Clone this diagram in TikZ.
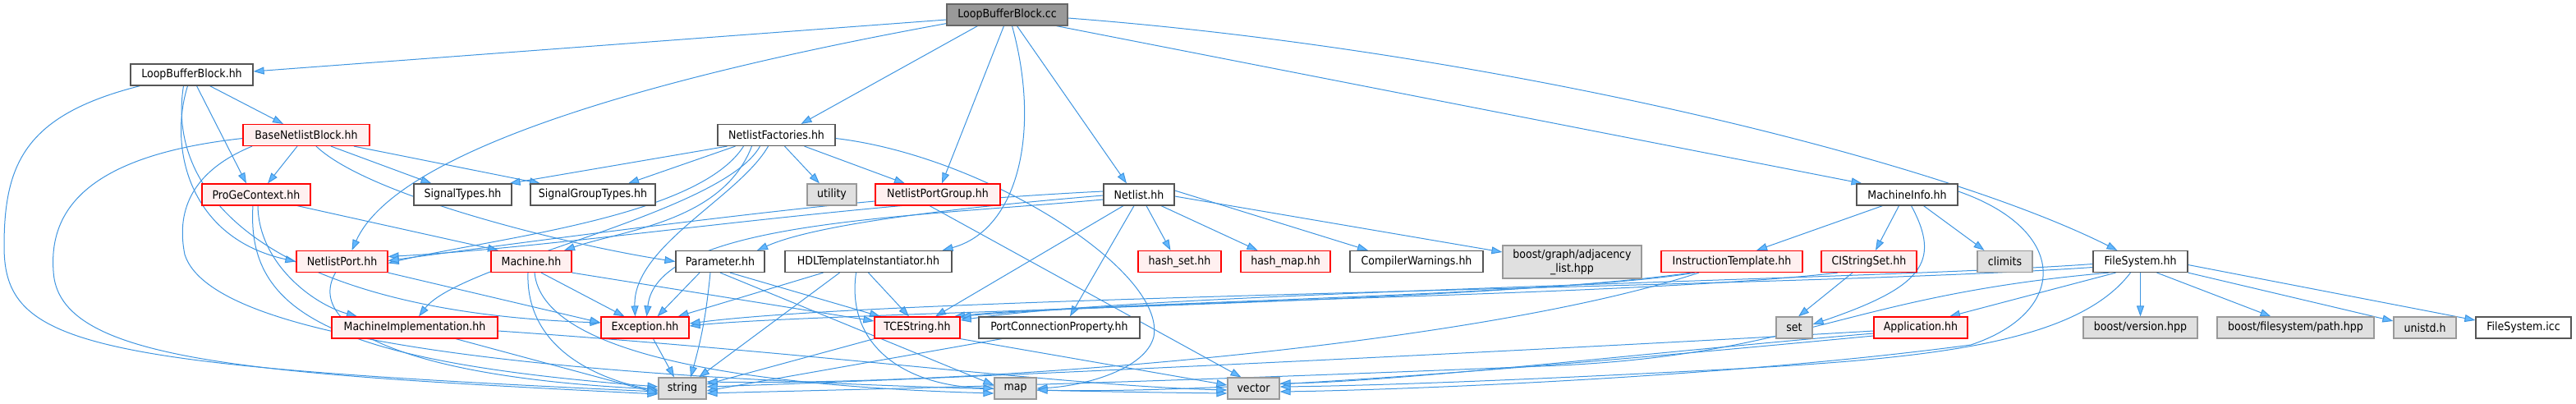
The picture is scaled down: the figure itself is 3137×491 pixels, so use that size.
\documentclass[tikz,border=0pt]{standalone}
\usepackage{fontspec}
\newfontfamily\nodefont{DejaVu Sans Condensed}
\usepackage{tikz}
\usetikzlibrary{arrows.meta,positioning,calc}
\pgfdeclarelayer{background}
\pgfsetlayers{background,main}

\definecolor{edgeblue}{HTML}{3F95E0}
\definecolor{tipblue}{HTML}{63B8FF}
\definecolor{rootfill}{HTML}{999999}
\definecolor{rootdraw}{HTML}{666666}
\definecolor{filedraw}{HTML}{555555}
\definecolor{redfill}{HTML}{FFF0F0}
\definecolor{sysfill}{HTML}{E0E0E0}
\definecolor{sysdraw}{HTML}{999999}

\tikzset{
    basebox/.style={line width=1.2pt, minimum height=26pt, inner sep=0pt,
        font=\nodefont\fontsize{14}{16}\selectfont, text=black},
    rootbox/.style={basebox, draw=rootdraw, fill=rootfill},
    filebox/.style={basebox, draw=filedraw, fill=white},
    redbox/.style={basebox, draw=red, fill=redfill},
    sysbox/.style={basebox, draw=sysdraw, fill=sysfill},
    edge/.style={draw=edgeblue, line width=1pt,
        -{Triangle[length=13pt, width=9pt, fill=tipblue]}}
}

\begin{document}
\begin{tikzpicture}[x=1pt, y=-1pt]
    \useasboundingbox (0, 0) rectangle (3137, 491);

    % Row 0 and 1
    \node[rootbox, minimum width=147pt] (cc) at (1226.5, 18) {LoopBufferBlock.cc};
    \node[filebox, minimum width=149pt] (lbbhh) at (233.5, 91) {LoopBufferBlock.hh};

    % Row 2
    \node[redbox, minimum width=154pt] (bnb) at (373, 164.5) {BaseNetlistBlock.hh};
    \node[filebox, minimum width=143pt] (nf) at (945.5, 164.5) {NetlistFactories.hh};

    % Row 3
    \node[redbox, minimum width=132pt] (pgc) at (312, 237) {ProGeContext.hh};
    \node[filebox, minimum width=119pt] (sigt) at (563.5, 237) {SignalTypes.hh};
    \node[filebox, minimum width=152pt] (sigg) at (722, 237) {SignalGroupTypes.hh};
    \node[sysbox, minimum width=60pt] (util) at (1013, 237) {utility};
    \node[redbox, minimum width=152pt] (npg) at (1142, 237) {NetlistPortGroup.hh};
    \node[filebox, minimum width=86pt] (nl) at (1387, 237) {Netlist.hh};
    \node[filebox, minimum width=123pt] (mi) at (2322.5, 237) {MachineInfo.hh};

    % Row 4
    \node[redbox, minimum width=111pt] (np) at (416.5, 318.5) {NetlistPort.hh};
    \node[redbox, minimum width=98pt] (mach) at (647, 318.5) {Machine.hh};
    \node[filebox, minimum width=108pt] (par) at (877, 318.5) {Parameter.hh};
    \node[filebox, minimum width=203pt] (hdl) at (1057.5, 318.5) {HDLTemplateInstantiator.hh};
    \node[redbox, minimum width=101pt] (hset) at (1436.5, 318.5) {hash\_set.hh};
    \node[redbox, minimum width=109pt] (hmap) at (1565.5, 318.5) {hash\_map.hh};
    \node[filebox, minimum width=162pt] (cw) at (1725, 318.5) {CompilerWarnings.hh};
    \node[sysbox, minimum width=169pt, minimum height=40pt, align=center,
        font=\nodefont\fontsize{14}{17}\selectfont] (bgraph) at (1914.5, 319)
        {boost/graph/adjacency\\\_list.hpp};
    \node[redbox, minimum width=172pt] (itpl) at (2109, 318.5) {InstructionTemplate.hh};
    \node[redbox, minimum width=116pt] (ciss) at (2276, 318.5) {CIStringSet.hh};
    \node[sysbox, minimum width=67pt] (clim) at (2441.5, 318.5) {climits};
    \node[filebox, minimum width=115pt] (fs) at (2606.5, 318.5) {FileSystem.hh};

    % Row 5
    \node[redbox, minimum width=202pt] (mimpl) at (505, 399) {MachineImplementation.hh};
    \node[redbox, minimum width=107pt] (exc) at (785.5, 399) {Exception.hh};
    \node[redbox, minimum width=104pt] (tce) at (1117, 399) {TCEString.hh};
    \node[filebox, minimum width=196pt] (pcp) at (1290, 399) {PortConnectionProperty.hh};
    \node[sysbox, minimum width=44pt] (set) at (2185, 399) {set};
    \node[redbox, minimum width=114pt] (app) at (2339, 399) {Application.hh};
    \node[sysbox, minimum width=139pt] (bver) at (2606.5, 399) {boost/version.hpp};
    \node[sysbox, minimum width=191pt] (bfs) at (2795.5, 399) {boost/filesystem/path.hpp};
    \node[sysbox, minimum width=76pt] (unistd) at (2953, 399) {unistd.h};
    \node[filebox, minimum width=116pt] (fsicc) at (3073, 399) {FileSystem.icc};

    % Row 6
    \node[sysbox, minimum width=58pt] (string) at (831, 473) {string};
    \node[sysbox, minimum width=51pt] (map) at (1236.5, 473) {map};
    \node[sysbox, minimum width=63pt] (vector) at (1526.5, 473) {vector};

    \begin{pgfonlayer}{background}
    % LoopBufferBlock.cc
    \draw[edge] ([yshift=-6pt]cc.west) -- ([yshift=4pt]lbbhh.east);
    \draw[edge] ([yshift=3pt]cc.south west) .. controls (760, 100) and (480, 190) .. ([xshift=12pt]np.north);
    \draw[edge] ([xshift=-36pt]cc.south) -- ([xshift=30pt]nf.north);
    \draw[edge] ([xshift=-4pt]cc.south) -- ([xshift=5pt]npg.north);
    \draw[edge] ([xshift=6pt]cc.south) .. controls (1268, 160) and (1240, 280) .. ([xshift=90pt]hdl.north);
    \draw[edge] ([xshift=12pt]cc.south) -- ([xshift=-15pt]nl.north);
    \draw[edge] ([xshift=60pt]cc.south) -- ([xshift=-55pt]mi.north);
    \draw[edge] ([yshift=-4pt]cc.east) .. controls (1800, 60) and (2350, 190) .. ([xshift=-28pt]fs.north);

    % LoopBufferBlock.hh
    \draw[edge] ([xshift=-63pt]lbbhh.south) .. controls (30, 140) and (5, 200) .. (5, 300)
        .. controls (5, 420) and (100, 445) .. ([yshift=-4pt]string.west);
    \draw[edge] ([xshift=22pt]lbbhh.south) -- ([xshift=-28pt]bnb.north);
    \draw[edge] ([xshift=6pt]lbbhh.south) -- ([xshift=-12pt]pgc.north);
    \draw[edge] ([xshift=-5pt]lbbhh.south) .. controls (205, 180) and (230, 290) .. (np.west);
    \draw[edge] ([xshift=-10pt]lbbhh.south) .. controls (200, 250) and (350, 380) .. ([yshift=6pt]exc.west);

    % BaseNetlistBlock.hh
    \draw[edge] ([yshift=-4pt]bnb.west) .. controls (100, 190) and (60, 260) .. (65, 330)
        .. controls (70, 440) and (300, 455) .. ([yshift=-7pt]string.west);
    \draw[edge] ([xshift=-66pt]bnb.south) .. controls (230, 210) and (215, 260) .. (225, 310)
        .. controls (260, 420) and (700, 470) .. ([yshift=-6pt]vector.west);
    \draw[edge] ([xshift=-11pt]bnb.south) -- ([xshift=14pt]pgc.north);
    \draw[edge] ([xshift=12pt]bnb.south) .. controls (450, 240) and (700, 300) .. (par.west);
    \draw[edge] ([xshift=30pt]bnb.south) -- ([xshift=-38pt]sigt.north);
    \draw[edge] ([xshift=58pt]bnb.south) -- ([xshift=-64pt]sigg.north);

    % NetlistFactories.hh
    \draw[edge] ([xshift=-60pt]nf.south) -- ([xshift=57pt]sigt.north);
    \draw[edge] ([xshift=-50pt]nf.south) -- ([xshift=43pt]sigg.north);
    \draw[edge] ([xshift=-40pt]nf.south) .. controls (850, 265) and (600, 290) .. ([yshift=-2pt]np.east);
    \draw[edge] ([xshift=-30pt]nf.south) .. controls (880, 270) and (760, 280) .. ([xshift=40pt]mach.north);
    \draw[edge] ([xshift=-20pt]nf.south) .. controls (880, 260) and (560, 320) .. ([xshift=5pt]mimpl.north);
    \draw[edge] ([xshift=-10pt]nf.south) .. controls (900, 240) and (770, 300) .. ([xshift=-12pt]exc.north);
    \draw[edge] ([xshift=10pt]nf.south) -- ([xshift=-15pt]util.north);
    \draw[edge] ([xshift=34pt]nf.south) -- ([xshift=-40pt]npg.north);
    \draw[edge] ([yshift=-4pt]nf.east) .. controls (1200, 190) and (1420, 330) .. (1405, 410)
        .. controls (1395, 450) and (1320, 470) .. (map.east);

    % ProGeContext.hh
    \draw[edge] ([xshift=50pt]pgc.south) -- ([xshift=-40pt]mach.north);
    \draw[edge] ([xshift=2pt]pgc.south) .. controls (315, 320) and (380, 370) .. ([xshift=-70pt]mimpl.north);
    \draw[edge] ([xshift=-4pt]pgc.south) .. controls (300, 380) and (400, 440) .. ([yshift=2pt]string.west);

    % NetlistPort.hh
    \draw[edge] (np.south east) -- ([yshift=6pt]exc.west);
    \draw[edge] ([xshift=-8pt]np.south) .. controls (370, 400) and (500, 460) .. ([yshift=-1pt]string.west);

    % Machine.hh
    \draw[edge] ([xshift=-4pt]mach.south) .. controls (640, 420) and (720, 460) .. ([yshift=-3pt]string.west);
    \draw[edge] ([xshift=12pt]mach.south) -- ([xshift=-25pt]exc.north);
    \draw[edge] (mach.south east) -- ([yshift=8pt]tce.west);
    \draw[edge] ([xshift=4pt]mach.south) .. controls (660, 430) and (900, 470) .. ([yshift=-6pt]map.west);

    % MachineImplementation.hh
    \draw[edge] ([xshift=50pt]mimpl.south) -- ([yshift=-6pt]string.west);
    \draw[edge] ([yshift=-4pt]mimpl.east) .. controls (1000, 430) and (1300, 470) .. ([yshift=-2pt]vector.west);

    % Exception.hh
    \draw[edge] ([xshift=10pt]exc.south) -- ([xshift=-10pt]string.north);

    % Parameter.hh
    \draw[edge] ([xshift=-25pt]par.south) -- ([xshift=15pt]exc.north);
    \draw[edge] ([xshift=-12pt]par.south) to[bend left=5] ([xshift=10pt]string.north);
    \draw[edge] (par.south) -- ([yshift=4pt]map.west);
    \draw[edge] ([xshift=12pt]par.south) -- ([xshift=-45pt]tce.north);

    % HDLTemplateInstantiator.hh
    \draw[edge] ([xshift=-55pt]hdl.south) -- ([xshift=40pt]exc.north);
    \draw[edge] ([xshift=-35pt]hdl.south) -- ([xshift=20pt]string.north);
    \draw[edge] ([xshift=-15pt]hdl.south) .. controls (1030, 420) and (1100, 470) .. (map.west);
    \draw[edge] (hdl.south) -- ([xshift=-10pt]tce.north);

    % Netlist.hh
    \draw[edge] ([yshift=4pt]nl.west) .. controls (1000, 250) and (700, 300) .. ([yshift=6pt]np.east);
    \draw[edge] ([yshift=-1pt]nl.west) .. controls (1200, 250) and (1000, 270) .. ([xshift=45pt]par.north);
    \draw[edge] ([yshift=-6pt]nl.west) .. controls (1100, 265) and (800, 270) .. ([xshift=2pt]exc.north);
    \draw[edge] ([xshift=-19pt]nl.south) -- ([xshift=22pt]tce.north);
    \draw[edge] ([xshift=-6pt]nl.south) -- ([xshift=13pt]pcp.north);
    \draw[edge] ([xshift=9pt]nl.south) -- ([xshift=-11pt]hset.north);
    \draw[edge] ([xshift=27pt]nl.south) -- ([xshift=-34pt]hmap.north);
    \draw[edge] ([yshift=5pt]nl.east) -- ([xshift=-59pt]cw.north);
    \draw[edge] ([yshift=-2pt]nl.east) -- ([yshift=12pt]bgraph.west);

    % NetlistPortGroup.hh
    \draw[edge] ([yshift=-8pt]npg.west) .. controls (900, 260) and (600, 300) .. ([yshift=1pt]np.east);
    \draw[edge] ([xshift=-10pt]npg.south) -- ([xshift=-15pt]vector.north);

    % TCEString.hh and PortConnectionProperty.hh
    \draw[edge] (tce.south west) -- ([yshift=5pt]string.east);
    \draw[edge] (tce.south east) -- ([yshift=4pt]vector.west);
    \draw[edge] ([xshift=-70pt]pcp.south) -- ([yshift=-3pt]string.east);

    % MachineInfo.hh
    \draw[edge] ([xshift=-30pt]mi.south) -- ([xshift=30pt]itpl.north);
    \draw[edge] ([xshift=-10pt]mi.south) -- ([xshift=8pt]ciss.north);
    \draw[edge] ([xshift=5pt]mi.south) .. controls (2365, 320) and (2340, 350) .. ([yshift=4pt]set.east);
    \draw[edge] ([xshift=20pt]mi.south) -- ([xshift=-25pt]clim.north);
    \draw[edge] ([yshift=4pt]mi.east) .. controls (2520, 280) and (2520, 380) .. (2400, 420)
        .. controls (2100, 460) and (1700, 475) .. ([yshift=-4pt]vector.east);

    % InstructionTemplate.hh and CIStringSet.hh
    \draw[edge] ([xshift=-45pt]itpl.south) .. controls (1900, 360) and (1300, 370) .. ([xshift=45pt]tce.north);
    \draw[edge] ([xshift=-50pt]itpl.south) .. controls (1800, 370) and (1000, 380) .. ([yshift=2pt]exc.east);
    \draw[edge] ([xshift=-40pt]itpl.south) .. controls (1800, 420) and (1200, 470) .. ([yshift=8pt]string.east);
    \draw[edge] ([xshift=-38pt]ciss.south) .. controls (2000, 360) and (1400, 365) .. (tce.north east);
    \draw[edge] ([xshift=-20pt]ciss.south) -- ([xshift=5pt]set.north);

    % FileSystem.hh
    \draw[edge] ([yshift=-3pt]fs.west) .. controls (2300, 340) and (1400, 355) .. ([yshift=9pt]tce.east);
    \draw[edge] ([yshift=-7pt]fs.west) .. controls (2200, 350) and (1100, 360) .. ([yshift=5pt]exc.east);
    \draw[edge] ([xshift=-30pt]fs.south) -- ([xshift=35pt]app.north);
    \draw[edge] ([xshift=-38pt]fs.south) .. controls (2250, 360) and (2200, 430) .. (1900, 445)
        .. controls (1300, 470) and (1000, 475) .. ([yshift=-6pt]string.east);
    \draw[edge] ([xshift=-12pt]fs.south) .. controls (2520, 430) and (2300, 440) .. (2000, 455)
        .. controls (1800, 465) and (1650, 470) .. ([yshift=2pt]vector.east);
    \draw[edge] (fs.south) -- (bver.north);
    \draw[edge] ([xshift=20pt]fs.south) -- ([xshift=-30pt]bfs.north);
    \draw[edge] (fs.south east) -- ([yshift=8pt]unistd.west);
    \draw[edge] ([yshift=-4pt]fs.east) -- ([yshift=9pt]fsicc.west);

    % Application.hh
    \draw[edge] ([yshift=-4pt]app.west) .. controls (2000, 420) and (1200, 460) .. ([yshift=2pt]string.east);
    \draw[edge] ([yshift=-7pt]app.west) .. controls (2000, 430) and (1700, 465) .. ([yshift=6pt]vector.east);
    \draw[edge] ([yshift=-10pt]app.west) .. controls (1900, 445) and (1500, 480) .. ([yshift=-2pt]map.east);
    \end{pgfonlayer}
\end{tikzpicture}
\end{document}
